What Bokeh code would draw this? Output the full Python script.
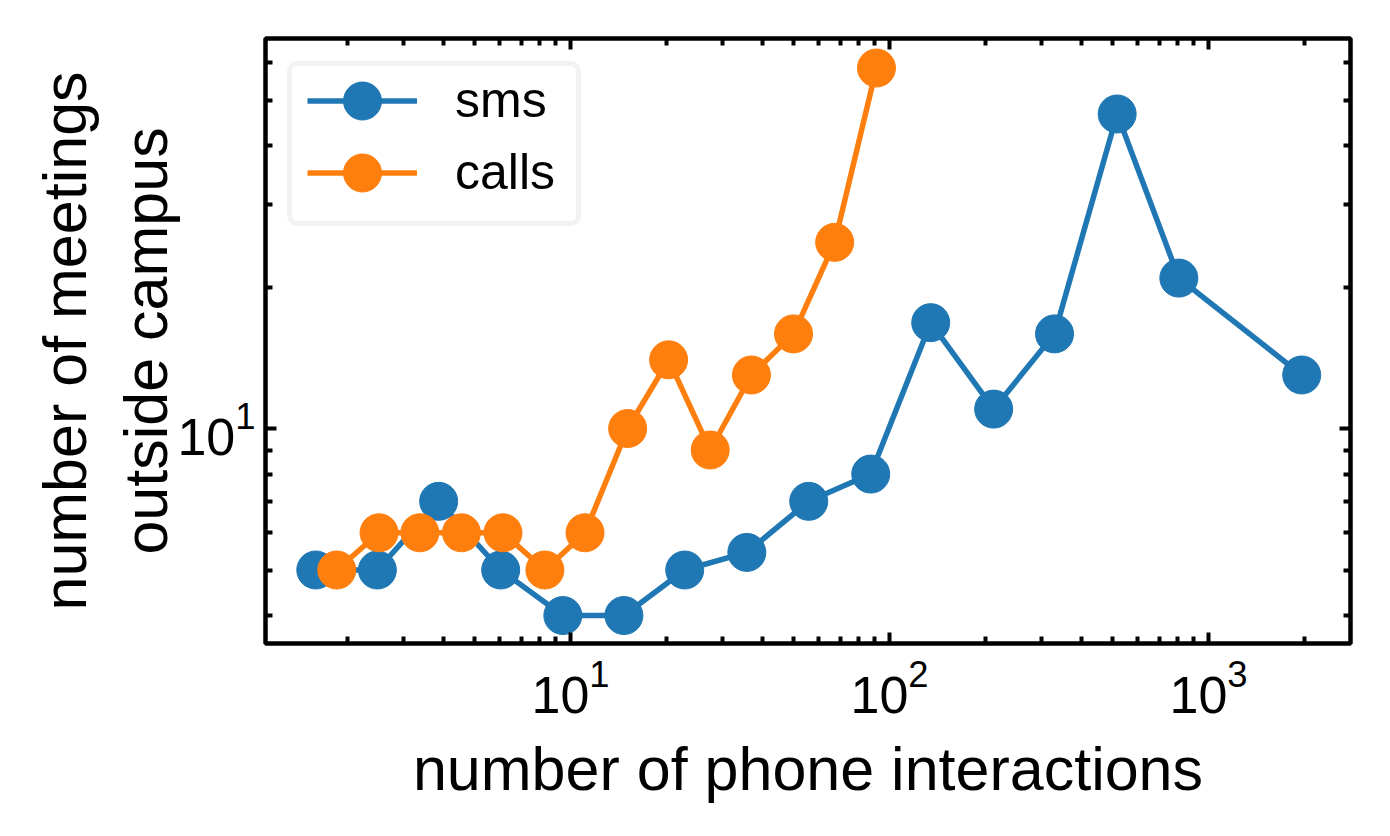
from bokeh.plotting import figure
from bokeh.models import (Range1d, FixedTicker, LogAxis, LogTickFormatter, Legend,
                          LegendItem, BoxAnnotation, CustomJSTickFormatter)
from bokeh.embed import file_html
from bokeh.resources import INLINE

# ---- data ----
sms_x = [1.59, 2.48, 3.86, 6.04, 9.46, 14.7, 22.8, 35.7, 55.8, 87.3, 134.6, 212, 329, 517, 807, 1959]
sms_y = [5, 5, 7, 5, 4, 4, 5, 5.45, 7, 8, 16.8, 11, 15.9, 46.7, 20.9, 13]
calls_x = [1.85, 2.51, 3.37, 4.55, 6.14, 8.31, 11.1, 15.1, 20.3, 27.4, 36.9, 50, 67.3, 91]
calls_y = [5, 6, 6, 6, 6, 5, 6, 10, 14, 9, 13, 15.9, 24.9, 58.5]

series_names = ["sms", "calls"]
series_colors = ["#1f77b4", "#ff7f0e"]

x_major_ticks = [10, 100, 1000]
x_minor_ticks = [2, 3, 4, 5, 6, 7, 8, 9, 20, 30, 40, 50, 60, 70, 80, 90,
                 200, 300, 400, 500, 600, 700, 800, 900, 2000]
y_major_ticks = [10]
y_minor_ticks = [4, 5, 6, 7, 8, 9, 20, 30, 40, 50, 60]

x_label = "number of phone interactions"
y_label = "number of meetings\noutside campus"

FONT = "Liberation Sans"

p = figure(width=1374, height=820, x_axis_type="log", y_axis_type="log",
           x_range=Range1d(1.106, 2786), y_range=Range1d(3.488, 67.6),
           output_backend="svg", toolbar_location=None,
           min_border_left=265, min_border_right=24, min_border_top=38, min_border_bottom=177)
p.grid.visible = False
p.outline_line_color = "black"
p.outline_line_width = 4.5
p.background_fill_color = "white"
p.border_fill_color = "white"


def style_axis(ax):
    ax.axis_line_color = None
    ax.major_tick_in = 11
    ax.major_tick_out = 0
    ax.minor_tick_in = 7
    ax.minor_tick_out = 0
    ax.major_tick_line_width = 4
    ax.minor_tick_line_width = 4
    ax.major_tick_line_color = "black"
    ax.minor_tick_line_color = "black"
    ax.major_label_text_font = FONT
    ax.major_label_text_color = "black"
    ax.major_label_text_font_size = "52px"


xax = p.xaxis[0]
xax.ticker = FixedTicker(ticks=x_major_ticks, minor_ticks=x_minor_ticks)
xax.formatter = LogTickFormatter()
style_axis(xax)
xax.major_label_standoff = 16
xax.axis_label = x_label
xax.axis_label_text_font = FONT
xax.axis_label_text_font_size = "61px"
xax.axis_label_text_font_style = "normal"
xax.axis_label_text_color = "black"
xax.axis_label_standoff = 19

yax = p.yaxis[0]
yax.ticker = FixedTicker(ticks=y_major_ticks, minor_ticks=y_minor_ticks)
yax.formatter = LogTickFormatter()
style_axis(yax)
yax.major_label_standoff = 10
yax.axis_label = y_label
yax.axis_label_text_font = FONT
yax.axis_label_text_font_size = "61px"
yax.axis_label_text_font_style = "normal"
yax.axis_label_text_color = "black"
yax.axis_label_standoff = -6

blank = CustomJSTickFormatter(code="return ''")
top_ax = LogAxis(ticker=FixedTicker(ticks=x_major_ticks, minor_ticks=x_minor_ticks), formatter=blank)
style_axis(top_ax)
top_ax.major_label_standoff = 0
p.add_layout(top_ax, "above")
right_ax = LogAxis(ticker=FixedTicker(ticks=y_major_ticks, minor_ticks=y_minor_ticks), formatter=blank)
style_axis(right_ax)
right_ax.major_label_standoff = 0
p.add_layout(right_ax, "right")

# ---- data marks ----
items = []
for xs, ys, name, col in [(sms_x, sms_y, series_names[0], series_colors[0]),
                          (calls_x, calls_y, series_names[1], series_colors[1])]:
    lr = p.line(xs, ys, line_color=col, line_width=5.5)
    sr = p.scatter(xs, ys, size=38, fill_color=col, line_color=col, line_width=1)
    items.append(LegendItem(label=name, renderers=[lr, sr]))

# ---- legend frame (canvas px) ----
frame_kw = dict(left=289, right=578, top=63, bottom=223,
                left_units="canvas", right_units="canvas", top_units="canvas", bottom_units="canvas",
                fill_color="white", fill_alpha=0.8, line_color="#d4d4d4", line_width=5,
                level="annotation")
if "border_radius" in BoxAnnotation.properties():
    frame_kw["border_radius"] = 8
p.add_layout(BoxAnnotation(**frame_kw))

# one legend per entry so that rows sit 72px apart with 38px markers
for item, vy in zip(items, [495.5, 423.5]):
    lg = Legend(items=[item], location=(42, vy), orientation="vertical",
                glyph_width=110, glyph_height=95, spacing=0, padding=0, margin=0,
                label_standoff=38, label_text_font=FONT, label_text_font_size="50px",
                label_text_color="black", border_line_alpha=0, background_fill_alpha=0)
    p.add_layout(lg, "center")

open("out.html", "w").write(file_html(p, INLINE))
